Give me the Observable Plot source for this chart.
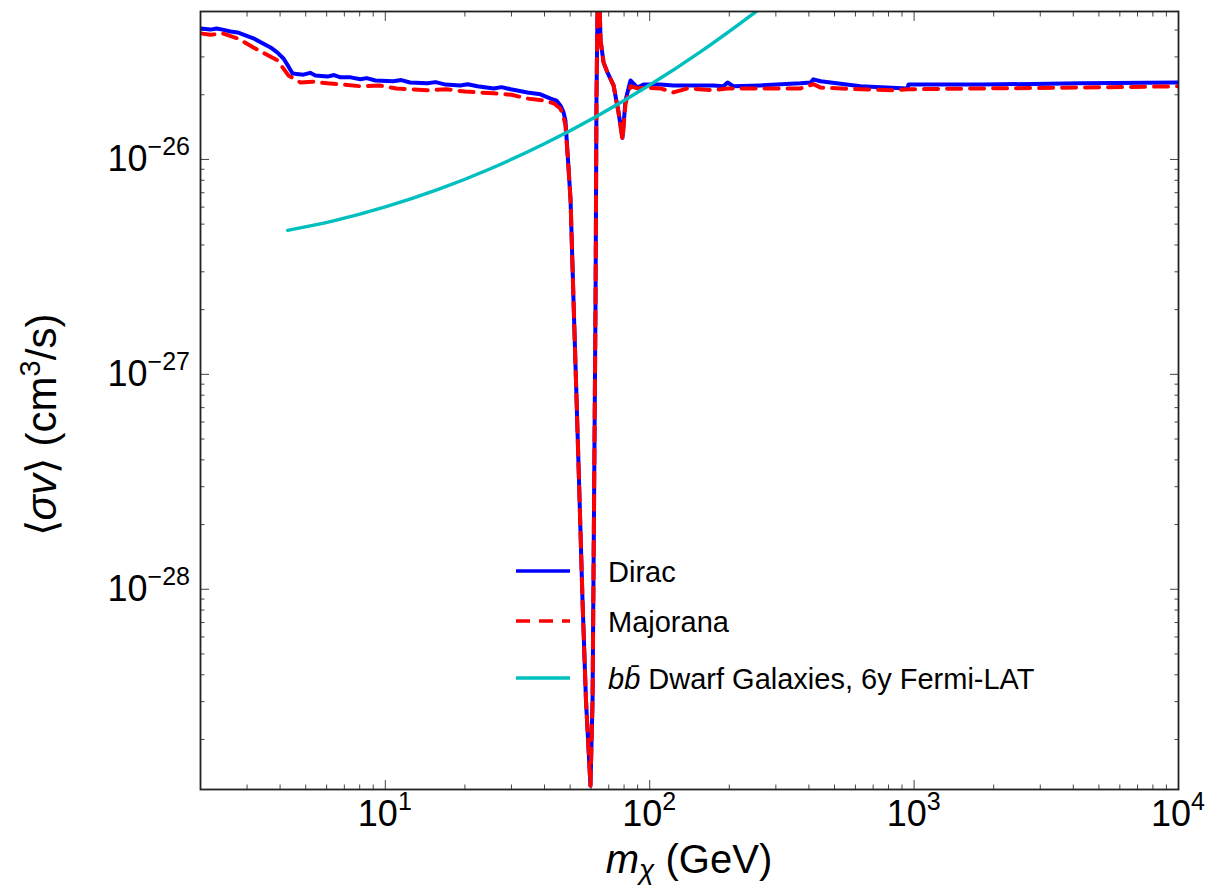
<!DOCTYPE html>
<html><head><meta charset="utf-8">
<script src="https://cdn.jsdelivr.net/npm/d3@7"></script>
<script src="https://cdn.jsdelivr.net/npm/@observablehq/plot@0.6"></script>
<style>body{margin:0;background:#fff;} #chart{width:1213px;height:887px;}</style>
</head><body><div id="chart"></div>
<script>
// Dirac (blue solid)
const diracMass = [2.00,2.18,2.30,2.42,2.60,2.76,3.17,3.68,3.90,4.12,4.30,4.46,4.90,5.20,5.44,6.04,6.40,6.77,7.4,8.05,8.50,9.18,10.7,11.5,12.4,14.4,15.5,16.9,19.2,20.5,22.3,25.7,27.5,29.8,34.5,38.6,42.2,44.4,46.0,47.2,48.0,49.3,50.2,51.5,52.9,54.3,55.7,57.4,59.7,60.8,61.6,62.4,62.9,63.5,64.3,65.2,66.9,69.2,73.0,76.2,78.9,81.0,84.6,89.9,94.7,110,123,139,174,190,197,207,262,372,406,416,443,627,944,952,1782,4256,10000];
const diracSigma = [4.07e-26,4.02e-26,4.07e-26,4.02e-26,3.94e-26,3.90e-26,3.66e-26,3.32e-26,3.15e-26,2.95e-26,2.71e-26,2.51e-26,2.48e-26,2.53e-26,2.46e-26,2.43e-26,2.47e-26,2.41e-26,2.41e-26,2.36e-26,2.39e-26,2.33e-26,2.31e-26,2.34e-26,2.28e-26,2.26e-26,2.29e-26,2.23e-26,2.21e-26,2.24e-26,2.19e-26,2.14e-26,2.17e-26,2.12e-26,2.05e-26,2.01e-26,1.92e-26,1.88e-26,1.78e-26,1.66e-26,1.52e-26,9.18e-27,6.45e-27,2.21e-27,7.57e-28,2.59e-28,8.89e-29,3.05e-29,1.22e-29,3.05e-29,2.59e-28,2.21e-27,1.88e-26,5.2e-26,6.5e-26,3.57e-26,2.83e-26,2.54e-26,2.21e-26,1.66e-26,1.26e-26,1.88e-26,2.33e-26,2.16e-26,2.23e-26,2.23e-26,2.21e-26,2.21e-26,2.21e-26,2.19e-26,2.28e-26,2.19e-26,2.21e-26,2.26e-26,2.28e-26,2.36e-26,2.31e-26,2.19e-26,2.14e-26,2.23e-26,2.23e-26,2.26e-26,2.28e-26];

// Majorana (red dashed)
const majMass = [2.00,2.18,2.42,2.76,3.17,3.91,4.30,4.78,5.3,6.04,7.0,8.05,9.5,11.0,14.4,17.0,20.0,25.7,30.0,34.5,40.0,43.5,46.0,47.2,48.0,49.3,50.2,51.5,52.9,54.3,55.7,57.4,59.7,60.8,61.6,62.4,62.9,63.5,64.3,65.2,66.9,69.2,73.0,76.2,78.9,81.0,84.6,89.9,94.7,110,123,139,174,197,262,372,416,443,627,836,952,1782,4256,10000];
const majSigma = [3.86e-26,3.80e-26,3.86e-26,3.66e-26,3.32e-26,2.89e-26,2.46e-26,2.28e-26,2.30e-26,2.26e-26,2.23e-26,2.19e-26,2.21e-26,2.14e-26,2.10e-26,2.12e-26,2.07e-26,2.03e-26,2.00e-26,1.92e-26,1.88e-26,1.82e-26,1.72e-26,1.57e-26,1.45e-26,9.18e-27,6.45e-27,2.21e-27,7.57e-28,2.59e-28,8.89e-29,3.05e-29,1.22e-29,3.05e-29,2.59e-28,2.21e-27,1.88e-26,5.2e-26,6.5e-26,3.57e-26,2.83e-26,2.54e-26,2.21e-26,1.66e-26,1.23e-26,1.82e-26,2.19e-26,2.14e-26,2.16e-26,2.14e-26,2.05e-26,2.14e-26,2.10e-26,2.14e-26,2.14e-26,2.14e-26,2.24e-26,2.16e-26,2.12e-26,2.10e-26,2.12e-26,2.14e-26,2.16e-26,2.19e-26];

// bb̄ Dwarf Galaxies, 6y Fermi-LAT (cyan)
const fermiMass = [4.27,6.31,10,15.85,25.1,39.8,63.1,100,158.5,251,316];
const fermiSigma = [4.68e-27,5.16e-27,6.01e-27,7.25e-27,9.08e-27,1.18e-26,1.59e-26,2.22e-26,3.22e-26,4.85e-26,6.04e-26];

// axis ticks
const xMajor = [10, 100, 1000, 10000];
const xMajorExp = ["1", "2", "3", "4"];
const yMajor = [1e-26, 1e-27, 1e-28];
const yMajorExp = ["\u221226", "\u221227", "\u221228"];
const xDomain = [2, 1e4];
const yDomain = [1.17e-29, 4.88e-26];

// legend
const legendLabels = ["Dirac", "Majorana", "bb\u0304 Dwarf Galaxies, 6y Fermi-LAT"];
const legendColors = ["#0000ff", "#ff0000", "#00bfbf"];
const legendDash = [null, "14,9", null];

const toRows = (xs, ys) => xs.map((m, i) => ({m, s: ys[i]}));
const dirac = toRows(diracMass, diracSigma);
const maj = toRows(majMass, majSigma);
const fermi = toRows(fermiMass, fermiSigma);

const minorOf = (lo, hi) => {
  const out = [];
  for (let e = Math.floor(Math.log10(lo)); e <= Math.ceil(Math.log10(hi)); e++)
    for (let k = 2; k <= 9; k++) { const v = k * Math.pow(10, e); if (v >= lo && v <= hi) out.push(v); }
  return out;
};
const xMinor = minorOf(xDomain[0], xDomain[1]);
const yMinor = minorOf(yDomain[0], yDomain[1]);

const blank = () => "";
const tickCol = "#444";

const plot = Plot.plot({
  width: 1213, height: 887,
  marginLeft: 200, marginRight: 35, marginTop: 11, marginBottom: 98,
  x: {type: "log", domain: xDomain},
  y: {type: "log", domain: yDomain},
  style: {fontFamily: "'Liberation Sans', Arial, sans-serif", background: "#fff"},
  marks: [
    Plot.axisX({anchor: "bottom", ticks: xMinor, tickSize: -4.5, tickFormat: blank, label: null, stroke: tickCol}),
    Plot.axisX({anchor: "bottom", ticks: xMajor, tickSize: -9, tickFormat: blank, label: null, stroke: tickCol}),
    Plot.axisX({anchor: "top", ticks: xMinor, tickSize: -4.5, tickFormat: blank, label: null, stroke: tickCol}),
    Plot.axisX({anchor: "top", ticks: xMajor, tickSize: -9, tickFormat: blank, label: null, stroke: tickCol}),
    Plot.axisY({anchor: "left", ticks: yMinor, tickSize: -4.5, tickFormat: blank, label: null, stroke: tickCol}),
    Plot.axisY({anchor: "left", ticks: yMajor, tickSize: -9, tickFormat: blank, label: null, stroke: tickCol}),
    Plot.axisY({anchor: "right", ticks: yMinor, tickSize: -4.5, tickFormat: blank, label: null, stroke: tickCol}),
    Plot.axisY({anchor: "right", ticks: yMajor, tickSize: -9, tickFormat: blank, label: null, stroke: tickCol}),
    Plot.line(dirac, {x: "m", y: "s", stroke: legendColors[0], strokeWidth: 4, clip: true}),
    Plot.line(maj, {x: "m", y: "s", stroke: legendColors[1], strokeWidth: 4, strokeDasharray: legendDash[1], clip: true}),
    Plot.line(fermi, {x: "m", y: "s", stroke: legendColors[2], strokeWidth: 3.4, curve: "catmull-rom", clip: true}),
    Plot.frame({stroke: "#222", strokeWidth: 1.8})
  ]
});
document.getElementById("chart").appendChild(plot);

const sx = plot.scale("x"), sy = plot.scale("y");
const svg = d3.select(plot);
const FONT = "'Liberation Sans', Arial, sans-serif";
const [fx0, fx1] = sx.range; const [fy0, fy1] = sy.range;
const fBottom = Math.max(fy0, fy1), fLeft = Math.min(fx0, fx1);

// x tick labels
xMajor.forEach((v, i) => {
  const t = svg.append("text").attr("x", sx.apply(v)).attr("y", fBottom + 37)
    .attr("text-anchor", "middle").attr("font-family", FONT).attr("font-size", 36).attr("fill", "#000");
  t.append("tspan").text("10");
  t.append("tspan").attr("font-size", 25).attr("dy", -16).text(xMajorExp[i]);
});
// y tick labels
yMajor.forEach((v, i) => {
  const t = svg.append("text").attr("x", fLeft - 10).attr("y", sy.apply(v) + 12)
    .attr("text-anchor", "end").attr("font-family", FONT).attr("font-size", 36).attr("fill", "#000");
  t.append("tspan").text("10");
  t.append("tspan").attr("font-size", 25).attr("dy", -16).text(yMajorExp[i]);
});
// x label
{
  const t = svg.append("text").attr("x", (fx0 + fx1) / 2).attr("y", fBottom + 84)
    .attr("text-anchor", "middle").attr("font-family", FONT).attr("font-size", 40).attr("fill", "#000");
  t.append("tspan").attr("font-style", "italic").text("m");
  t.append("tspan").attr("font-style", "italic").attr("font-size", 28).attr("dy", 6).text("\u03c7");
  t.append("tspan").attr("dy", -6).text(" (GeV)");
}
// y label
{
  const cy = (fy0 + fy1) / 2 + 25;
  const t = svg.append("text").attr("transform", `translate(56,${cy}) rotate(-90)`)
    .attr("text-anchor", "middle").attr("font-family", FONT).attr("font-size", 42).attr("fill", "#000");
  t.append("tspan").text("\u27e8");
  t.append("tspan").attr("font-style", "italic").text("\u03c3v");
  t.append("tspan").text("\u27e9 (cm");
  t.append("tspan").attr("font-size", 29).attr("dy", -16).text("3");
  t.append("tspan").attr("dy", 16).text("/s)");
}
// legend
const legX = sx.apply(xDomain[0]) + 316, legY0 = sy.apply(yDomain[1]) + 560;
const legGap = [0, 50, 107];
legendLabels.forEach((lab, i) => {
  const y = legY0 + legGap[i];
  svg.append("line").attr("x1", legX).attr("x2", legX + 54).attr("y1", y).attr("y2", y)
    .attr("stroke", legendColors[i]).attr("stroke-width", 3.6)
    .attr("stroke-dasharray", legendDash[i]);
  const t = svg.append("text").attr("x", legX + 92).attr("y", y + 11).attr("text-anchor", "start")
    .attr("font-family", FONT).attr("font-size", 29).attr("fill", "#000");
  if (i === 2) {
    t.append("tspan").attr("font-style", "italic").text("bb\u0304");
    t.append("tspan").text(" Dwarf Galaxies, 6y Fermi-LAT");
  } else t.text(lab);
});
</script>
</body></html>
